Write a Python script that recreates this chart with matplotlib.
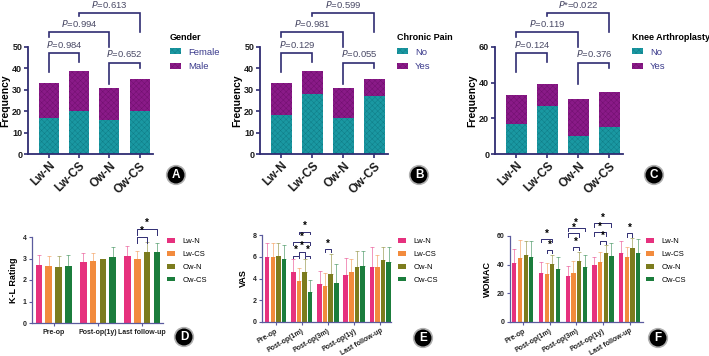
import numpy as np
import matplotlib.pyplot as plt
from matplotlib.transforms import blended_transform_factory

plt.rcParams['font.family'] = ['Liberation Sans', 'DejaVu Sans']
plt.rcParams['hatch.linewidth'] = 0.3

# ---------- data: top panels (counts) ----------
groups = ['Lw-N', 'Lw-CS', 'Ow-N', 'Ow-CS']

gender_female = [17, 20, 16, 20]
gender_male = [16, 19, 15, 15]
pain_no = [18, 28, 17, 27]
pain_yes = [15, 11, 14, 8]
knee_no = [17, 27, 10, 15]
knee_yes = [16, 12, 21, 20]

p_gender = ['$P$=0.984', '$P$=0.994', '$P$=0.613', '$P$=0.652']
p_pain = ['$P$=0.129', '$P$=0.981', '$P$=0.599', '$P$=0.055']
p_knee = ['$P$=0.124', '$P$=0.119', '$P$*=0.022', '$P$=0.376']

# ---------- data: bottom panels (mean and SD) ----------
series = ['Lw-N', 'Lw-CS', 'Ow-N', 'Ow-CS']

kl_times = ['Pre-op', 'Post-op(1y)', 'Last follow-up']
kl_mean = [[2.69, 2.84, 3.12],
           [2.64, 2.87, 2.97],
           [2.60, 2.98, 3.32],
           [2.64, 3.06, 3.29]]
kl_sd = [[0.48, 0.42, 0.48],
         [0.47, 0.38, 0.40],
         [0.50, 0.00, 0.46],
         [0.50, 0.47, 0.45]]

time5 = ['Pre-op', 'Post-op(1m)', 'Post-op(3m)', 'Post-op(1y)', 'Last follow-up']
vas_mean = [[6.02, 4.61, 3.51, 4.34, 5.10],
            [6.02, 3.79, 3.33, 4.64, 5.04],
            [6.08, 4.61, 4.43, 5.07, 5.74],
            [5.77, 2.78, 3.63, 5.16, 5.56]]
vas_sd = [[1.25, 1.22, 1.19, 1.52, 1.83],
          [1.22, 1.16, 1.22, 1.16, 1.13],
          [1.16, 1.19, 1.80, 1.49, 1.19],
          [1.31, 1.10, 1.68, 1.40, 1.31]]

womac_mean = [[41.0, 34.5, 32.2, 39.6, 48.4],
              [44.5, 33.6, 34.3, 42.2, 45.2],
              [46.8, 40.5, 42.6, 48.4, 51.7],
              [45.4, 36.8, 38.5, 45.9, 48.4]]
womac_sd = [[9.7, 7.2, 6.9, 6.0, 8.1],
            [12.7, 7.9, 8.3, 6.9, 7.4],
            [9.7, 6.3, 6.5, 5.3, 6.7],
            [11.1, 8.4, 8.3, 9.5, 9.5]]

# significance brackets: (time index, series a, series b, height)
kl_sig = [(2, 1, 2, 4.0), (2, 1, 3, 4.37)]
vas_sig = [(1, 0, 1, 6.1), (1, 1, 2, 6.45), (1, 2, 3, 6.1),
           (1, 0, 3, 7.33), (1, 1, 3, 8.3), (2, 1, 2, 6.69)]
womac_sig = [(1, 0, 2, 57.9), (1, 1, 2, 50.3),
             (2, 0, 3, 65.8), (2, 0, 2, 61.8), (2, 1, 2, 52.6),
             (3, 0, 3, 68.8), (3, 0, 2, 62.5), (3, 1, 2, 56.5),
             (4, 1, 2, 61.8)]

# ---------- styles ----------
teal = '#1a98a2'
teal_d = '#0f7a84'
purple = '#8a1a88'
purple_d = '#6e0f6c'
navy = '#2f2c72'
pcol = '#4a4a66'
bar_cols = ['#e6317e', '#f28b3d', '#7c7c1e', '#1b7d3c']
axis_lt = '#5b5b9e'

W, H = 709, 356
fig = plt.figure(figsize=(W / 100, H / 100), dpi=100)


def add_ax(l, t, r, b):
    return fig.add_axes([l / W, 1 - b / H, (r - l) / W, (b - t) / H])


def circle_label(x, y, s):
    fig.text(x / W, 1 - y / H, s, ha='center', va='center', color='white',
             fontsize=8.5, fontweight='bold',
             bbox=dict(boxstyle='circle,pad=0.28', fc='black', ec='#b0b0b0', lw=1.2))


# ---------- top panels ----------
def stack_panel(ax, lo, hi, labels, title, pvals, ymax, yticks, leg_x):
    x = np.arange(len(groups))
    ax.bar(x, lo, 0.66, color=teal, edgecolor=teal_d, hatch='xxxxxx', lw=0, label=labels[0])
    ax.bar(x, hi, 0.66, bottom=lo, color=purple, edgecolor=purple_d, hatch='xxxxxx', lw=0,
           label=labels[1])
    ax.set_xlim(-0.69, 3.44)
    ax.set_ylim(0, ymax)
    ax.set_yticks(yticks)
    ax.set_xticks(x)
    ax.set_xticklabels(groups, rotation=45, ha='right', rotation_mode='anchor',
                       fontsize=8.5, fontweight='bold', color='#1a1a1a')
    for t in ax.get_yticklabels():
        t.set_fontweight('bold')
        t.set_fontsize(6.5)
    for s in ['top', 'right']:
        ax.spines[s].set_visible(False)
    for s in ['left', 'bottom']:
        ax.spines[s].set_color(navy)
        ax.spines[s].set_linewidth(1.3)
    ax.tick_params(colors=navy, length=3.0, width=1.2, labelcolor='#1a1a1a', pad=1.2)
    ax.set_ylabel('Frequency', fontsize=7.5, fontweight='bold', labelpad=1.5)

    tr = blended_transform_factory(ax.transData, ax.transAxes)
    brk = [(0, 1, 0.944, 0.766, 0.86, 1.02),
           (0, 2, 1.14, 1.093, 1.0, 1.215),
           (1, 3, 1.318, 1.29, 1.14, 1.393),
           (2, 3, 0.85, 0.654, 0.804, 0.935)]
    for (i, j, y, yl, yr, ty), p in zip(brk, pvals):
        ax.plot([i, i, j, j], [yl, y, y, yr], transform=tr, clip_on=False,
                color=navy, lw=1.2, solid_joinstyle='miter')
        ax.text((i + j) / 2, ty, p, transform=tr, ha='center', va='center',
                fontsize=6.8, color=pcol)

    leg = ax.legend(loc='upper left', bbox_to_anchor=(leg_x / W, 1 - 33 / H),
                    bbox_transform=fig.transFigure, frameon=False, title=title,
                    alignment='left', borderpad=0, borderaxespad=0,
                    fontsize=6.8, handlelength=1.15, handleheight=0.6,
                    handletextpad=0.75, labelspacing=0.6)
    leg.get_title().set_fontweight('bold')
    leg.get_title().set_fontsize(6.5)
    for t in leg.get_texts():
        t.set_color('#3a3a8c')


ax_a = add_ax(28, 47, 153, 154)
stack_panel(ax_a, gender_female, gender_male, ['Female', 'Male'], 'Gender',
            p_gender, 50, [0, 10, 20, 30, 40, 50], 170)
ax_b = add_ax(260, 47, 388, 154)
stack_panel(ax_b, pain_no, pain_yes, ['No', 'Yes'], 'Chronic Pain',
            p_pain, 50, [0, 10, 20, 30, 40, 50], 397)
ax_c = add_ax(495, 47, 623, 154)
stack_panel(ax_c, knee_no, knee_yes, ['No', 'Yes'], 'Knee Arthroplasty',
            p_knee, 60, [0, 20, 40, 60], 632)

circle_label(176, 175, 'A')
circle_label(419, 175, 'B')
circle_label(654, 175, 'C')


# ---------- bottom panels ----------
def group_panel(ax, times, mean, sd, sig, pitch, width, xlim, ymax, yticks, ylabel,
                rot, leg_x, star_dy, leg_dy):
    n = len(times)
    x = np.arange(n)
    for k in range(4):
        xs = x + (k - 1.5) * pitch
        ax.bar(xs, mean[k], width, color=bar_cols[k], label=series[k], lw=0)
        ax.errorbar(xs, mean[k], yerr=[np.zeros(n), sd[k]], fmt='none',
                    ecolor=bar_cols[k], alpha=0.6, elinewidth=0.6, capsize=1.6,
                    capthick=0.6)
    for (t, a, b, y) in sig:
        xa = t + (a - 1.5) * pitch
        xb = t + (b - 1.5) * pitch
        ax.plot([xa, xa, xb, xb], [y - leg_dy, y, y, y - leg_dy], color=navy,
                lw=0.7, clip_on=False)
        ax.text((xa + xb) / 2, y + star_dy, '*', ha='center', va='center',
                fontsize=7, fontweight='bold', color='black', clip_on=False)
    ax.set_xlim(*xlim)
    ax.set_ylim(0, ymax)
    ax.set_yticks(yticks)
    ax.set_xticks(x)
    if rot:
        ax.set_xticklabels(times, rotation=rot, ha='right', rotation_mode='anchor',
                           fontsize=5, fontweight='bold')
    else:
        ax.set_xticklabels(times, fontsize=5, fontweight='bold')
    for t in ax.get_yticklabels():
        t.set_fontweight('bold')
        t.set_fontsize(5)
    for s in ['top', 'right']:
        ax.spines[s].set_visible(False)
    for s in ['left', 'bottom']:
        ax.spines[s].set_color(axis_lt)
        ax.spines[s].set_linewidth(0.9)
    ax.tick_params(colors=axis_lt, length=2.5, width=0.8, labelcolor='#222222', pad=1.5)
    ax.set_ylabel(ylabel, fontsize=6.5, fontweight='bold', labelpad=3)
    ax.legend(loc='upper left', bbox_to_anchor=(leg_x / W, 1 - 238 / H),
              bbox_transform=fig.transFigure, frameon=False, borderpad=0,
              borderaxespad=0, fontsize=5.5, handlelength=1.1, handleheight=0.6,
              handletextpad=0.9, labelspacing=0.75)


ax_d = add_ax(32, 237, 163, 323)
group_panel(ax_d, kl_times, kl_mean, kl_sd, kl_sig, 0.223, 0.152, (-0.49, 2.47),
            4, [0, 1, 2, 3, 4], 'K-L Rating', 0, 167, 0.3, 0.3)
ax_e = add_ax(262, 235, 391, 322)
group_panel(ax_e, time5, vas_mean, vas_sd, vas_sig, 0.214, 0.172, (-0.52, 4.41),
            8, [0, 2, 4, 6, 8], 'VAS', 30, 398, 0.52, 0.25)
ax_f = add_ax(510, 236, 643, 322)
group_panel(ax_f, time5, womac_mean, womac_sd, womac_sig, 0.212, 0.16, (-0.48, 4.5),
            60, [0, 20, 40, 60], 'WOMAC', 30, 646, 3.6, 2.3)

circle_label(184, 337, 'D')
circle_label(423, 338, 'E')
circle_label(658, 338, 'F')

fig.savefig('out.png', dpi=100)
